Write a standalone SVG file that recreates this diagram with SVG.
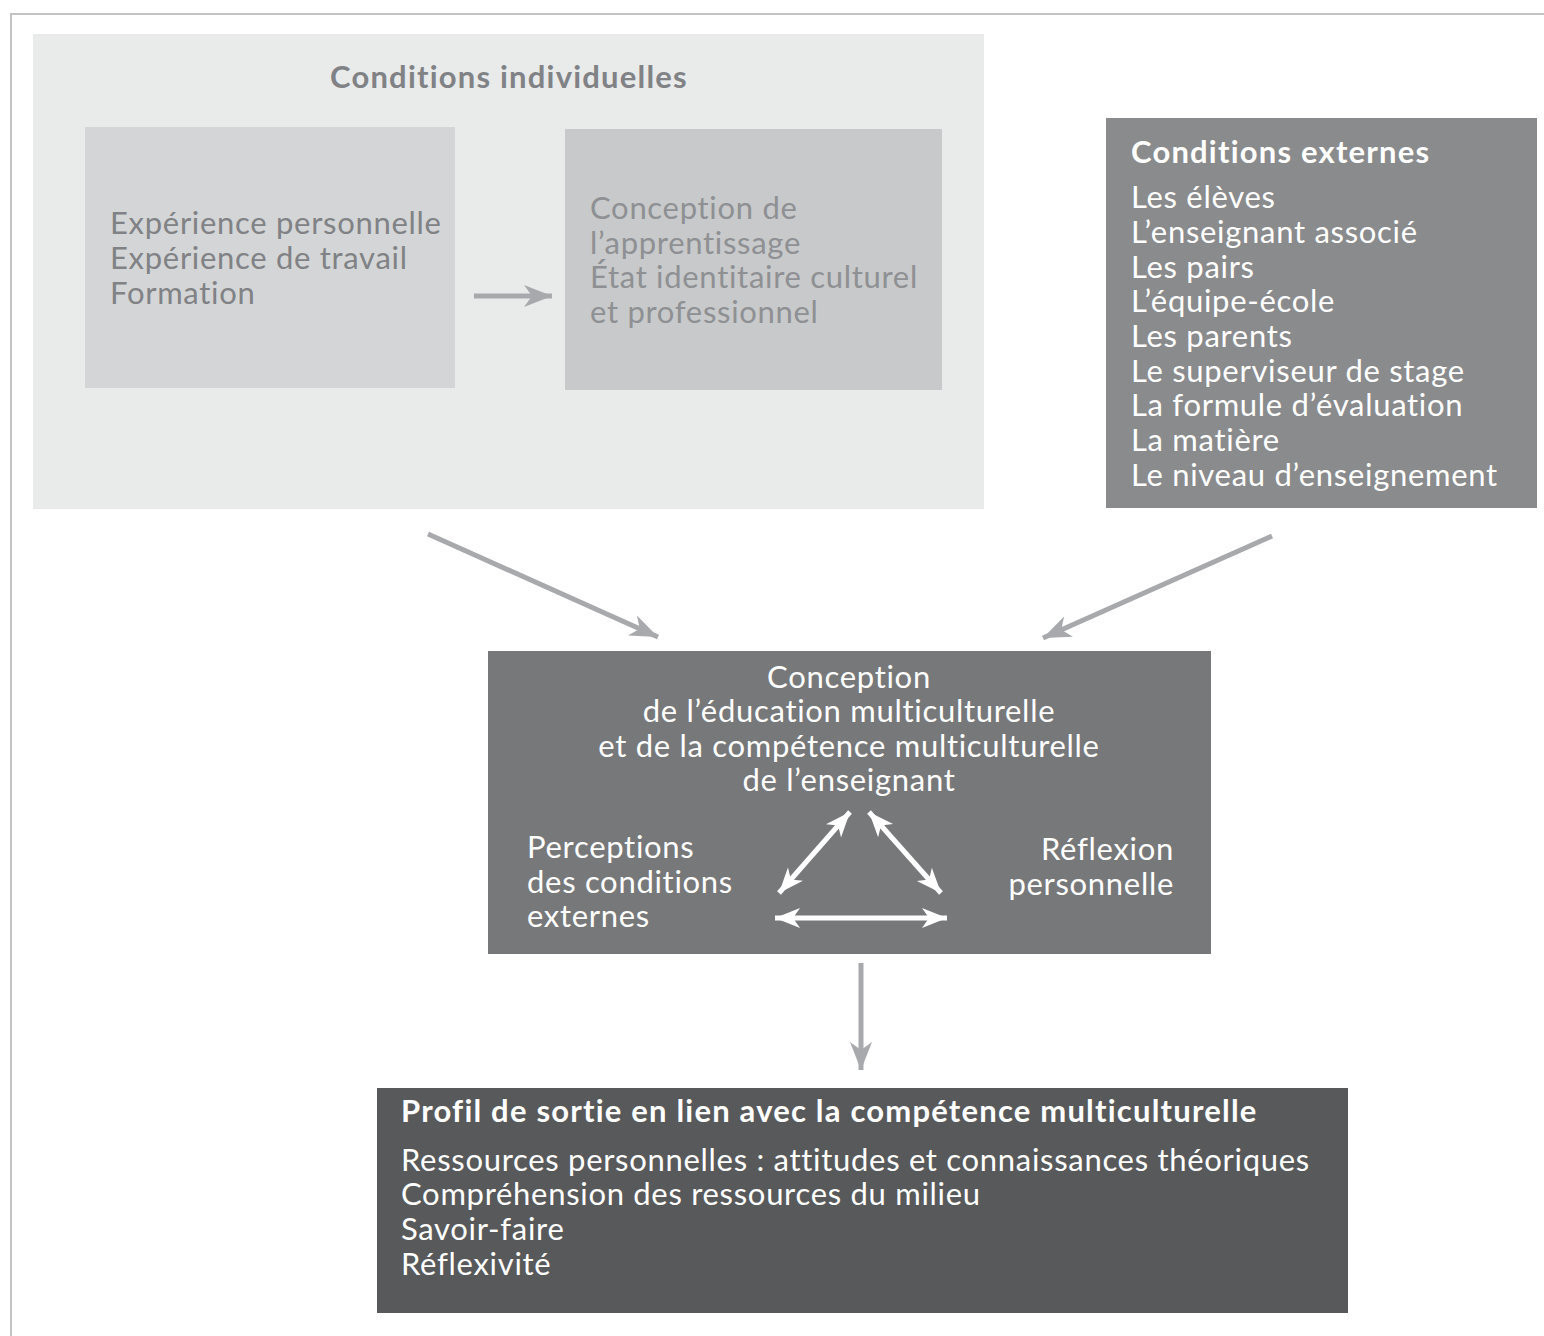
<svg xmlns="http://www.w3.org/2000/svg" width="1544" height="1336" viewBox="0 0 1544 1336">
<style>
text{font-family:Lato,"Open Sans","Liberation Sans",sans-serif;font-size:31px;letter-spacing:0.7px}
.b{font-weight:700;letter-spacing:1.2px}
.w{fill:#ffffff}
.g{fill:#808285}
.g2{fill:#8e9093}
.c{stroke:#a7a9ac;stroke-width:5;fill:none}
.t{stroke:#ffffff;stroke-width:5;fill:none}
</style>
<defs>
<marker id="ag" markerUnits="userSpaceOnUse" markerWidth="30" markerHeight="24" viewBox="0 -12 30 24" refX="28" refY="0" orient="auto">
<path d="M0,-11 L28,0 L0,11 L8,0 z" fill="#a7a9ac"/>
</marker>
<marker id="aw" markerUnits="userSpaceOnUse" markerWidth="28" markerHeight="22" viewBox="0 -11 28 22" refX="25" refY="0" orient="auto-start-reverse">
<path d="M0,-10 L25,0 L0,10 L7,0 z" fill="#ffffff"/>
</marker>
</defs>
<rect x="11" y="14" width="1560" height="1340" fill="#ffffff" stroke="#c2c3c4" stroke-width="2"/>
<g id="conditions-individuelles">
<rect x="33" y="34" width="951" height="475" fill="#e9eaea"/>
<text class="b g" x="509" y="88" text-anchor="middle">Conditions individuelles</text>
</g>
<g id="experience">
<rect x="85" y="127" width="370" height="261" fill="#d4d5d6"/>
<text class="g" x="110" y="234">Expérience personnelle</text>
<text class="g" x="110" y="269">Expérience de travail</text>
<text class="g" x="110" y="304">Formation</text>
</g>
<g id="conception-apprentissage">
<rect x="565" y="129" width="377" height="261" fill="#c8c9ca"/>
<text class="g2" x="590" y="219">Conception de</text>
<text class="g2" x="590" y="254">l’apprentissage</text>
<text class="g2" x="590" y="288">État identitaire culturel</text>
<text class="g2" x="590" y="323">et professionnel</text>
</g>
<g id="conditions-externes">
<rect x="1106" y="118" width="431" height="390" fill="#8a8b8d"/>
<text class="b w" x="1131" y="163">Conditions externes</text>
<text class="w" x="1131" y="208">Les élèves</text>
<text class="w" x="1131" y="243">L’enseignant associé</text>
<text class="w" x="1131" y="278">Les pairs</text>
<text class="w" x="1131" y="312">L’équipe-école</text>
<text class="w" x="1131" y="347">Les parents</text>
<text class="w" x="1131" y="382">Le superviseur de stage</text>
<text class="w" x="1131" y="416">La formule d’évaluation</text>
<text class="w" x="1131" y="451">La matière</text>
<text class="w" x="1131" y="486">Le niveau d’enseignement</text>
</g>
<g id="conception-multiculturelle">
<rect x="488" y="651" width="723" height="303" fill="#77787a"/>
<text class="w" x="849" y="688" text-anchor="middle">Conception</text>
<text class="w" x="849" y="722" text-anchor="middle">de l’éducation multiculturelle</text>
<text class="w" x="849" y="757" text-anchor="middle">et de la compétence multiculturelle</text>
<text class="w" x="849" y="791" text-anchor="middle">de l’enseignant</text>
<text class="w" x="527" y="858">Perceptions</text>
<text class="w" x="527" y="893">des conditions</text>
<text class="w" x="527" y="927">externes</text>
<text class="w" x="1174" y="860" text-anchor="end">Réflexion</text>
<text class="w" x="1174" y="895" text-anchor="end">personnelle</text>
<line class="t" x1="779" y1="893" x2="850" y2="812" marker-start="url(#aw)" marker-end="url(#aw)"/>
<line class="t" x1="869" y1="812" x2="941" y2="893" marker-start="url(#aw)" marker-end="url(#aw)"/>
<line class="t" x1="775" y1="918" x2="947" y2="918" marker-start="url(#aw)" marker-end="url(#aw)"/>
</g>
<g id="profil-de-sortie">
<rect x="377" y="1088" width="971" height="225" fill="#58595b"/>
<text class="b w" x="401" y="1122">Profil de sortie en lien avec la compétence multiculturelle</text>
<text class="w" x="401" y="1171">Ressources personnelles : attitudes et connaissances théoriques</text>
<text class="w" x="401" y="1205">Compréhension des ressources du milieu</text>
<text class="w" x="401" y="1240">Savoir-faire</text>
<text class="w" x="401" y="1275">Réflexivité</text>
</g>
<g id="connectors">
<line class="c" x1="474" y1="296" x2="552" y2="296" marker-end="url(#ag)"/>
<line class="c" x1="428" y1="534" x2="658" y2="637" marker-end="url(#ag)"/>
<line class="c" x1="1272" y1="536" x2="1043" y2="638" marker-end="url(#ag)"/>
<line class="c" x1="861" y1="963" x2="861" y2="1070" marker-end="url(#ag)"/>
</g>
</svg>
